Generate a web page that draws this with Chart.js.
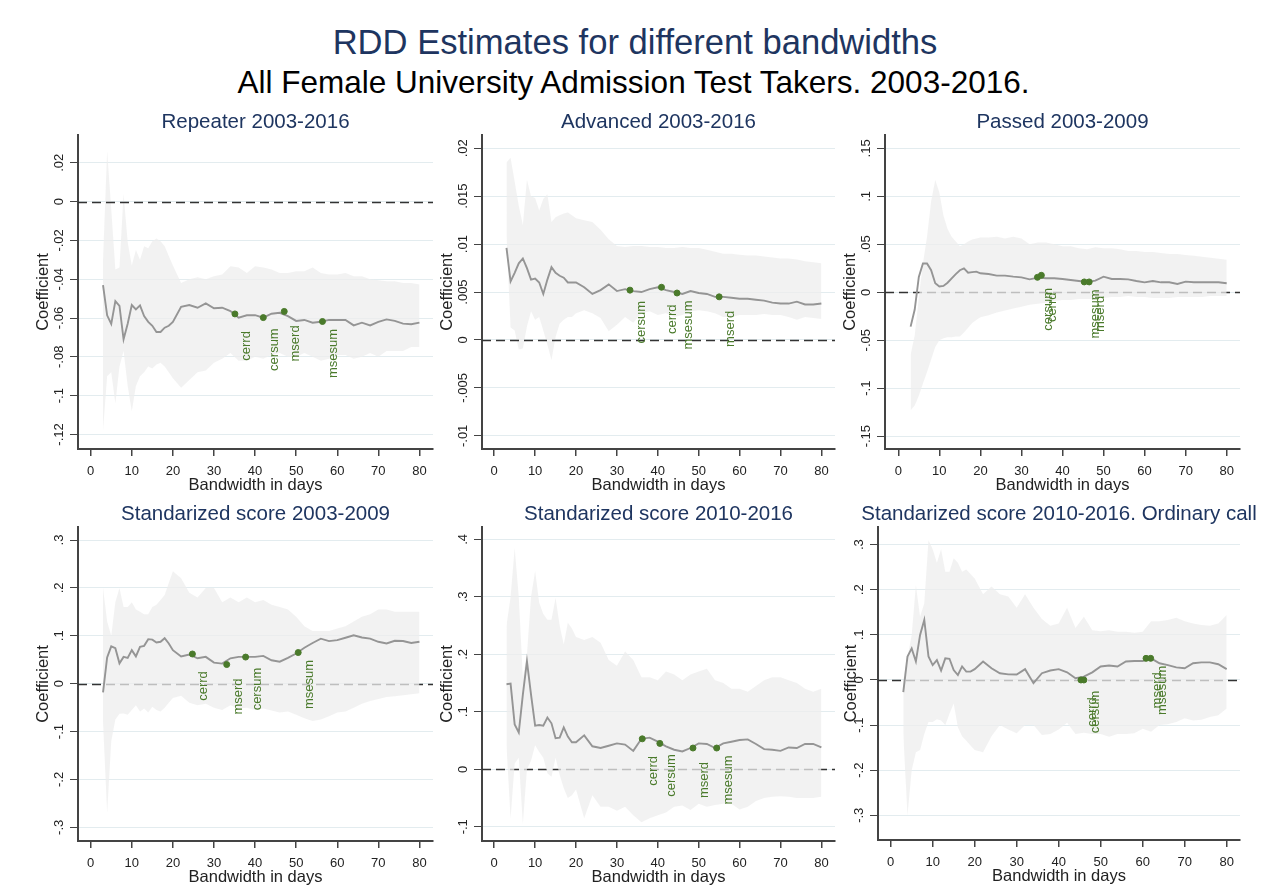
<!DOCTYPE html>
<html lang="en">
<head>
<meta charset="UTF-8" />
<title>RDD Estimates for different bandwidths</title>
<style>
  body { margin: 0; background: #fff; }
  #page { position: relative; width: 1264px; height: 888px; overflow: hidden; font-family: "Liberation Sans", Arial, sans-serif; }
  .head { position: absolute; left: 0; text-align: center; line-height: 1; white-space: nowrap; }
  #t1 { top: 25px; width: 1270px; font-size: 34.6px; color: #1e3560; }
  #t2 { top: 67px; width: 1267px; font-size: 31.5px; color: #000; }
  canvas { position: absolute; }
</style>
</head>
<body>
<div id="page">
  <div class="head" id="t1">RDD Estimates for different bandwidths</div>
  <div class="head" id="t2">All Female University Admission Test Takers. 2003-2016.</div>
  <canvas id="c1" width="440" height="400" style="left:0;top:100px"></canvas>
  <canvas id="c2" width="400" height="400" style="left:440px;top:100px"></canvas>
  <canvas id="c3" width="424" height="400" style="left:840px;top:100px"></canvas>
  <canvas id="c4" width="440" height="396" style="left:0;top:492px"></canvas>
  <canvas id="c5" width="400" height="396" style="left:440px;top:492px"></canvas>
  <canvas id="c6" width="424" height="396" style="left:840px;top:492px"></canvas>
</div>
<script src="https://cdn.jsdelivr.net/npm/chart.js@4.4.0/dist/chart.umd.min.js"></script>
<script>
// bandwidths (days)
const bw = [3,4,5,6,7,8,9,10,11,12,13,14,15,16,17,18,19,20,
  22,24,26,28,30,32,34,36,38,40,42,44,46,48,50,52,54,56,58,60,62,64,66,68,70,72,74,76,78,80];
const xTicks = [0,10,20,30,40,50,60,70,80];

// Repeater 2003-2016
const p1Coef = [-0.043,-0.0586,-0.063,-0.0513,-0.0538,-0.071,-0.063,-0.0533,-0.0556,-0.0535,-0.059,-0.062,-0.064,-0.0672,-0.0672,-0.065,-0.064,-0.062,
  -0.0542,-0.0533,-0.0547,-0.0525,-0.055,-0.0547,-0.0564,-0.0598,-0.0586,-0.0585,-0.0598,-0.0578,-0.0573,-0.059,-0.0615,-0.061,-0.0624,-0.0619,-0.061,-0.061,-0.061,-0.0638,-0.0624,-0.0638,-0.062,-0.0607,-0.0615,-0.0629,-0.0632,-0.0624];
const p1Up = [-0.03,0.026,-0.004,-0.035,-0.034,0.004,-0.021,-0.033,-0.025,-0.03,-0.023,-0.024,-0.0205,-0.019,-0.0205,-0.023,-0.028,-0.033,
  -0.042,-0.04,-0.039,-0.04,-0.0385,-0.0376,-0.0333,-0.034,-0.0368,-0.0333,-0.034,-0.035,-0.0368,-0.0368,-0.0359,-0.0359,-0.034,-0.0368,-0.0376,-0.0376,-0.0368,-0.0385,-0.0385,-0.04,-0.0405,-0.041,-0.041,-0.042,-0.042,-0.0427];
const p1Lo = [-0.118,-0.09,-0.088,-0.104,-0.085,-0.077,-0.095,-0.108,-0.095,-0.09,-0.088,-0.085,-0.086,-0.084,-0.083,-0.085,-0.088,-0.091,
  -0.096,-0.092,-0.088,-0.087,-0.083,-0.081,-0.078,-0.082,-0.082,-0.08,-0.081,-0.079,-0.078,-0.08,-0.08,-0.078,-0.08,-0.082,-0.081,-0.079,-0.079,-0.081,-0.08,-0.078,-0.08,-0.077,-0.077,-0.077,-0.075,-0.075];
const p1MarkX = [35.1, 42.0, 47.1, 56.4];
const p1MarkY = [-0.0579, -0.0598, -0.0566, -0.0618];
const p1MarkLbl = ['cerrd', 'cersum', 'mserd', 'msesum'];
const p1YTicks = [-0.12, -0.1, -0.08, -0.06, -0.04, -0.02, 0, 0.02];

// Advanced 2003-2016
const p2Coef = [0.0096,0.0061,0.007,0.008,0.0085,0.0075,0.0063,0.0064,0.006,0.0048,0.0063,0.0076,0.007,0.0067,0.0065,0.006,0.006,0.006,
  0.0055,0.0048,0.0052,0.0058,0.0051,0.0053,0.0051,0.005,0.0053,0.0055,0.0052,0.005,0.0048,0.0051,0.0049,0.0048,0.0045,0.0045,0.0044,0.0043,0.0043,0.0042,0.0041,0.0039,0.0038,0.0038,0.004,0.0037,0.0037,0.0038];
const p2Up = [0.0185,0.019,0.0165,0.014,0.012,0.0167,0.015,0.0148,0.0135,0.0147,0.0152,0.0123,0.0128,0.013,0.0132,0.0133,0.013,0.0127,
  0.0125,0.0123,0.0115,0.0105,0.0098,0.0097,0.0098,0.0098,0.0097,0.0097,0.0096,0.0096,0.0097,0.0096,0.0096,0.0094,0.0092,0.009,0.009,0.0089,0.0088,0.0088,0.0087,0.0086,0.0085,0.0085,0.0084,0.0082,0.0081,0.008];
const p2Lo = [0.0108,0.0013,0.001,-0.001,-0.0009,0.0014,0.003,0.0021,0.0024,0.001,-0.0005,-0.0021,0.0003,0.0017,0.0021,0.0024,0.0024,0.0028,
  0.0031,0.0028,0.0023,0.0009,0.0016,0.0024,0.0018,0.0028,0.003,0.0026,0.0028,0.0024,0.0026,0.003,0.0031,0.003,0.0028,0.0024,0.0024,0.0026,0.0026,0.0026,0.0027,0.0026,0.0026,0.0024,0.0021,0.0024,0.0023,0.0022];
const p2MarkX = [33.2, 40.9, 44.7, 55.0];
const p2MarkY = [0.0052, 0.0055, 0.0049, 0.0045];
const p2MarkLbl = ['cersum', 'cerrd', 'msesum', 'mserd'];
const p2YTicks = [-0.01, -0.005, 0, 0.005, 0.01, 0.015, 0.02];

// Passed 2003-2009
const p3Coef = [-0.0358,-0.018,0.016,0.03,0.03,0.023,0.0094,0.006,0.0066,0.01,0.0146,0.019,0.023,0.025,0.0205,0.021,0.0215,0.0198,
  0.019,0.0174,0.0174,0.0163,0.0156,0.0135,0.0153,0.0146,0.0146,0.0139,0.0128,0.0118,0.0108,0.0122,0.0163,0.0139,0.0139,0.0135,0.0118,0.0104,0.0118,0.0104,0.0104,0.0087,0.0111,0.0104,0.0104,0.0104,0.0104,0.0094];
const p3Up = [-0.065,-0.045,-0.005,0.03,0.058,0.095,0.117,0.104,0.08,0.066,0.058,0.053,0.048,0.05,0.053,0.055,0.056,0.057,
  0.057,0.058,0.056,0.058,0.056,0.05,0.052,0.052,0.05,0.048,0.048,0.046,0.045,0.047,0.046,0.046,0.045,0.043,0.043,0.042,0.042,0.041,0.04,0.04,0.039,0.038,0.037,0.036,0.035,0.034];
const p3Lo = [-0.123,-0.118,-0.108,-0.095,-0.083,-0.07,-0.057,-0.05,-0.048,-0.047,-0.047,-0.046,-0.046,-0.042,-0.037,-0.032,-0.029,-0.026,
  -0.024,-0.021,-0.019,-0.017,-0.015,-0.013,-0.012,-0.011,-0.009,-0.008,-0.008,-0.007,-0.007,-0.007,-0.006,-0.005,-0.005,-0.004,-0.005,-0.005,-0.006,-0.006,-0.006,-0.005,-0.005,-0.005,-0.005,-0.004,-0.004,-0.004];
const p3MarkX = [33.9, 34.85, 45.3, 46.5];
const p3MarkY = [0.0156, 0.0177, 0.0108, 0.0108];
const p3MarkLbl = ['cersum', 'cerrd', 'msesum', 'mserd'];
const p3YTicks = [-0.15, -0.1, -0.05, 0, 0.05, 0.1, 0.15];

// Standarized score 2003-2009
const p4Coef = [-0.018,0.055,0.078,0.074,0.0425,0.056,0.054,0.07,0.057,0.077,0.079,0.093,0.092,0.086,0.0875,0.095,0.084,0.07,
  0.057,0.061,0.053,0.056,0.044,0.042,0.053,0.056,0.056,0.056,0.058,0.049,0.046,0.054,0.063,0.075,0.085,0.094,0.089,0.091,0.096,0.101,0.0965,0.094,0.0875,0.084,0.0895,0.089,0.085,0.0875];
const p4Up = [0.2,0.13,0.1,0.17,0.2,0.16,0.16,0.17,0.155,0.15,0.145,0.145,0.16,0.165,0.175,0.185,0.21,0.235,
  0.22,0.19,0.18,0.2,0.2,0.17,0.18,0.17,0.18,0.17,0.175,0.165,0.16,0.155,0.14,0.12,0.11,0.11,0.11,0.115,0.12,0.13,0.14,0.145,0.155,0.155,0.15,0.15,0.15,0.15];
const p4Lo = [-0.08,-0.27,-0.12,-0.075,-0.063,-0.062,-0.065,-0.055,-0.045,-0.058,-0.052,-0.06,-0.048,-0.055,-0.058,-0.05,-0.04,-0.03,
  -0.025,-0.04,-0.045,-0.042,-0.05,-0.055,-0.045,-0.052,-0.05,-0.055,-0.052,-0.056,-0.06,-0.058,-0.065,-0.072,-0.078,-0.075,-0.068,-0.06,-0.058,-0.05,-0.042,-0.036,-0.032,-0.028,-0.026,-0.024,-0.022,-0.02];
const p4MarkX = [24.75, 33.1, 37.7, 50.5];
const p4MarkY = [0.062, 0.04, 0.0556, 0.065];
const p4MarkLbl = ['cerrd', 'mserd', 'cersum', 'msesum'];
const p4YTicks = [-0.3, -0.2, -0.1, 0, 0.1, 0.2, 0.3];

// Standarized score 2010-2016
const p5Coef = [0.148,0.149,0.078,0.064,0.13,0.188,0.13,0.076,0.077,0.076,0.09,0.08,0.054,0.055,0.073,0.057,0.047,0.047,
  0.059,0.04,0.037,0.041,0.045,0.043,0.032,0.053,0.055,0.048,0.04,0.034,0.031,0.037,0.045,0.044,0.037,0.045,0.048,0.051,0.052,0.044,0.035,0.034,0.032,0.038,0.037,0.044,0.044,0.038];
const p5Up = [0.25,0.3,0.385,0.3,0.16,0.2,0.3,0.345,0.29,0.27,0.26,0.26,0.298,0.25,0.217,0.255,0.245,0.23,
  0.225,0.23,0.22,0.19,0.18,0.205,0.19,0.16,0.16,0.155,0.17,0.165,0.155,0.165,0.17,0.175,0.155,0.15,0.14,0.14,0.135,0.145,0.155,0.16,0.16,0.155,0.15,0.14,0.135,0.14];
const p5Lo = [0.04,-0.085,0.01,0.02,-0.095,0,0.015,0.042,0.03,0.02,-0.007,-0.013,0.02,-0.01,-0.033,-0.05,-0.045,-0.035,
  -0.085,-0.045,-0.065,-0.065,-0.072,-0.065,-0.08,-0.092,-0.085,-0.08,-0.075,-0.065,-0.063,-0.071,-0.06,-0.065,-0.062,-0.06,-0.06,-0.07,-0.065,-0.055,-0.05,-0.048,-0.047,-0.048,-0.05,-0.05,-0.05,-0.048];
const p5MarkX = [36.2, 40.5, 48.6, 54.4];
const p5MarkY = [0.053, 0.045, 0.037, 0.037];
const p5MarkLbl = ['cerrd', 'cersum', 'mserd', 'msesum'];
const p5YTicks = [-0.1, 0, 0.1, 0.2, 0.3, 0.4];

// Standarized score 2010-2016. Ordinary call
const p6Coef = [-0.027,0.052,0.07,0.041,0.1,0.133,0.052,0.033,0.044,0.021,0.048,0.047,0.022,0.011,0.03,0.0185,0.0185,0.024,
  0.041,0.026,0.015,0.0125,0.012,0.024,-0.007,0.015,0.021,0.024,0.017,0.004,0.0074,0.017,0.03,0.032,0.03,0.041,0.042,0.042,0.048,0.037,0.033,0.028,0.026,0.037,0.039,0.039,0.035,0.024];
const p6Up = [0,0.05,0.1,0.21,0.14,0.17,0.31,0.29,0.26,0.29,0.24,0.24,0.27,0.26,0.24,0.245,0.235,0.225,
  0.19,0.207,0.19,0.185,0.16,0.19,0.16,0.135,0.12,0.125,0.16,0.115,0.14,0.11,0.108,0.11,0.107,0.107,0.105,0.107,0.13,0.13,0.133,0.138,0.13,0.125,0.122,0.12,0.125,0.144];
const p6Lo = [-0.12,-0.3,-0.2,-0.16,-0.155,-0.12,-0.093,-0.093,-0.087,-0.09,-0.1,-0.075,-0.052,-0.105,-0.125,-0.135,-0.145,-0.155,
  -0.16,-0.125,-0.1,-0.11,-0.118,-0.1,-0.1,-0.122,-0.12,-0.11,-0.095,-0.12,-0.117,-0.12,-0.12,-0.126,-0.12,-0.12,-0.118,-0.108,-0.115,-0.1,-0.098,-0.093,-0.085,-0.09,-0.088,-0.082,-0.078,-0.063];
const p6MarkX = [45.3, 46.0, 60.8, 61.9];
const p6MarkY = [0, 0, 0.048, 0.048];
const p6MarkLbl = ['cerrd', 'cersum', 'mserd', 'msesum'];
const p6YTicks = [-0.3, -0.2, -0.1, 0, 0.1, 0.2, 0.3];

const FONT = '"Liberation Sans", Arial, sans-serif';
const NAVY = '#1e3560';
const GREEN = '#4a7a2b';
const AXIS = '#444';

const panels = [
  { id: 'c1', title: 'Repeater 2003-2016', coef: p1Coef, up: p1Up, lo: p1Lo, mx: p1MarkX, my: p1MarkY, ml: p1MarkLbl, yTicks: p1YTicks,
    xMin: -3.09, xMax: 83.3, yMin: -0.1275, yMax: 0.0343, wy: 78, top: 35, right: 7, hx: 51, yTitle: 30, zeroOnTop: true },
  { id: 'c2', title: 'Advanced 2003-2016', coef: p2Coef, up: p2Up, lo: p2Lo, mx: p2MarkX, my: p2MarkY, ml: p2MarkLbl, yTicks: p2YTicks,
    xMin: -2.99, xMax: 83.33, yMin: -0.01137, yMax: 0.02138, wy: 42, top: 35, right: 3, hx: 51, yTitle: 30, zeroOnTop: true },
  { id: 'c3', title: 'Passed 2003-2009', coef: p3Coef, up: p3Up, lo: p3Lo, mx: p3MarkX, my: p3MarkY, ml: p3MarkLbl, yTicks: p3YTicks,
    xMin: -3.24, xMax: 83.24, yMin: -0.1634, yMax: 0.164, wy: 45, top: 35, right: 24, hx: 51, yTitle: 30, zeroOnTop: false },
  { id: 'c4', title: 'Standarized score 2003-2009', coef: p4Coef, up: p4Up, lo: p4Lo, mx: p4MarkX, my: p4MarkY, ml: p4MarkLbl, yTicks: p4YTicks,
    xMin: -3.09, xMax: 83.3, yMin: -0.3285, yMax: 0.3272, wy: 78, top: 35, right: 7, hx: 47, yTitle: 30, zeroOnTop: false },
  { id: 'c5', title: 'Standarized score 2010-2016', coef: p5Coef, up: p5Up, lo: p5Lo, mx: p5MarkX, my: p5MarkY, ml: p5MarkLbl, yTicks: p5YTicks,
    xMin: -2.99, xMax: 83.33, yMin: -0.1248, yMax: 0.4216, wy: 42, top: 35, right: 3, hx: 47, yTitle: 30, zeroOnTop: false },
  { id: 'c6', title: 'Standarized score 2010-2016. Ordinary call', coef: p6Coef, up: p6Up, lo: p6Lo, mx: p6MarkX, my: p6MarkY, ml: p6MarkLbl, yTicks: p6YTicks,
    xMin: -3.02, xMax: 83.17, yMin: -0.3548, yMax: 0.3392, wy: 38, top: 35, right: 24, hx: 48, yTitle: 22, zeroOnTop: false }
];

// Stata style labels: .02, -.1, 0
function stata(v) {
  if (v === 0) return '0';
  return String(v).replace(/^(-?)0\./, '$1.');
}

function vtext(ctx, txt, x, y) {
  ctx.save();
  ctx.translate(x, y);
  ctx.rotate(-Math.PI / 2);
  ctx.fillText(txt, 0, 0);
  ctx.restore();
}

function zeroLine(chart) {
  const { ctx, chartArea: a, scales: { y } } = chart;
  const py = Math.round(y.getPixelForValue(0)) + 0.5;
  ctx.save();
  ctx.strokeStyle = '#333';
  ctx.lineWidth = 1.5;
  ctx.setLineDash([9, 5]);
  ctx.beginPath();
  ctx.moveTo(a.left, py);
  ctx.lineTo(a.right, py);
  ctx.stroke();
  ctx.restore();
}

function rddPlugin(p) {
  return {
    id: 'rdd_' + p.id,
    beforeDatasetsDraw(chart) {
      if (!p.zeroOnTop) zeroLine(chart);
    },
    afterDatasetsDraw(chart) {
      if (p.zeroOnTop) zeroLine(chart);
      const ctx = chart.ctx;
      ctx.save();
      ctx.font = '13px ' + FONT;
      ctx.fillStyle = GREEN;
      ctx.textAlign = 'center';
      ctx.textBaseline = 'alphabetic';
      chart.getDatasetMeta(3).data.forEach((pt, i) => vtext(ctx, p.ml[i], pt.x + 15, pt.y + 32));
      ctx.restore();
    },
    afterDraw(chart) {
      const { ctx, chartArea: a, scales: { y } } = chart;
      const cx = (a.left + a.right) / 2;
      ctx.save();
      ctx.textAlign = 'center';
      ctx.textBaseline = 'alphabetic';
      ctx.fillStyle = '#222';
      ctx.font = '13px ' + FONT;
      p.yTicks.forEach(v => vtext(ctx, stata(v), a.left - 15, y.getPixelForValue(v)));
      ctx.font = '16.5px ' + FONT;
      vtext(ctx, 'Coefficient', a.left - p.yTitle, (a.top + a.bottom) / 2);
      ctx.fillText('Bandwidth in days', cx, a.bottom + 41);
      ctx.fillStyle = NAVY;
      ctx.font = '20.5px ' + FONT;
      ctx.fillText(p.title, cx, a.top - 7);
      ctx.restore();
    }
  };
}

const pts = (xs, ys) => xs.map((x, i) => ({ x: x, y: ys[i] }));

panels.forEach(p => {
  new Chart(document.getElementById(p.id), {
    type: 'line',
    data: {
      datasets: [
        { data: pts(bw, p.up), fill: '+1', backgroundColor: 'rgba(238,238,238,0.75)', borderWidth: 0, pointRadius: 0, order: 3 },
        { data: pts(bw, p.lo), fill: false, borderWidth: 0, pointRadius: 0, order: 3 },
        { data: pts(bw, p.coef), fill: false, borderColor: '#959595', borderWidth: 1.9, pointRadius: 0, order: 2 },
        { data: pts(p.mx, p.my), showLine: false, pointRadius: 3, pointBackgroundColor: GREEN, pointBorderColor: GREEN, pointBorderWidth: 1, order: 1 }
      ]
    },
    options: {
      responsive: false,
      animation: false,
      events: [],
      layout: { padding: { left: 0, top: p.top, right: p.right, bottom: 0 } },
      plugins: { legend: { display: false }, tooltip: { enabled: false }, title: { display: false } },
      scales: {
        x: {
          type: 'linear', min: p.xMin, max: p.xMax,
          afterBuildTicks: s => { s.ticks = xTicks.map(v => ({ value: v })); },
          afterFit: s => { s.height = p.hx; },
          grid: { drawOnChartArea: false, drawTicks: true, tickLength: 7, tickColor: AXIS, lineWidth: 1.5 },
          border: { display: true, color: AXIS, width: 2 },
          ticks: { font: { family: FONT, size: 13 }, color: '#222', padding: 8, maxRotation: 0, autoSkip: false }
        },
        y: {
          type: 'linear', min: p.yMin, max: p.yMax,
          afterBuildTicks: s => { s.ticks = p.yTicks.map(v => ({ value: v })); },
          afterFit: s => { s.width = p.wy; },
          grid: { color: '#e3ecef', lineWidth: 1, drawTicks: true, tickLength: 8, tickColor: AXIS },
          border: { display: true, color: AXIS, width: 2 },
          ticks: { display: false }
        }
      }
    },
    plugins: [rddPlugin(p)]
  });
});
</script>
</body>
</html>
